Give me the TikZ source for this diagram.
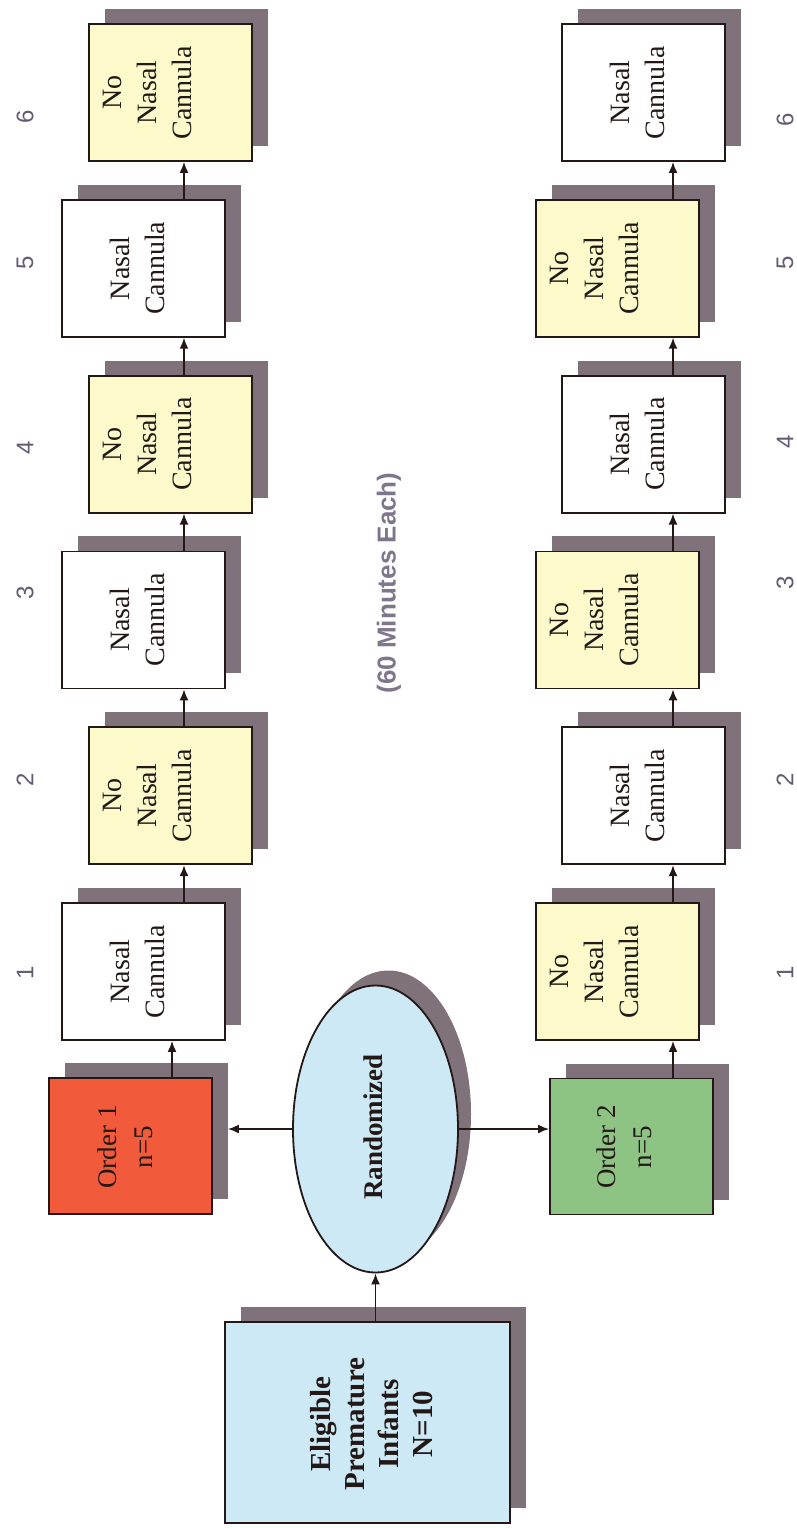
\documentclass[tikz,border=0pt]{standalone}
\usepackage{fontspec}
\setmainfont{Liberation Serif}
\setsansfont{Liberation Sans}
\usetikzlibrary{shapes.geometric,shadows,arrows.meta,calc}

\definecolor{edge}{RGB}{35,24,21}
\definecolor{shade}{RGB}{128,114,122}
\definecolor{paleyellow}{RGB}{252,249,203}
\definecolor{paleblue}{RGB}{205,233,245}
\definecolor{orderred}{RGB}{241,90,58}
\definecolor{ordergreen}{RGB}{141,196,132}
\definecolor{numc}{RGB}{98,90,114}
\definecolor{notec}{RGB}{128,118,140}

\tikzset{
  shadowed/.style={drop shadow={shadow xshift=16pt, shadow yshift=15pt, fill=shade, opacity=1}},
  box/.style={draw=edge, line width=1.8pt, minimum width=163pt, minimum height=137pt,
              inner sep=0pt, shadowed},
  nc/.style={box, fill=white},
  nnc/.style={box, fill=paleyellow},
  txt/.style={rotate=90, align=center, inner sep=0pt, text=edge,
              font=\fontsize{28}{35}\selectfont},
  boldtxt/.style={txt, font=\bfseries\fontsize{29}{34}\selectfont},
  arr/.style={-{Latex[length=11pt,width=9pt]}, line width=1.8pt, draw=edge},
  num/.style={rotate=90, inner sep=0pt, text=numc, font=\sffamily\fontsize{24}{24}\selectfont},
}

\begin{document}
\begin{tikzpicture}[x=1pt,y=-1pt]
\useasboundingbox (0,0) rectangle (796,1529);

% guide columns for the vertical connectors
\coordinate (colA) at (184,0);
\coordinate (colB) at (673,0);
\coordinate (colO) at (172,0);

% source box and randomisation
\node[box, minimum width=285pt, minimum height=201pt, fill=paleblue] (elig) at (367.5,1422.5) {};
\node[boldtxt] (eligt) at (372,1424) {Eligible\\Premature\\Infants\\N=10};

\node[ellipse, draw=edge, line width=1.8pt, fill=paleblue, minimum width=165pt,
      minimum height=287pt, inner sep=0pt,
      drop shadow={shadow xshift=13pt, shadow yshift=15pt, fill=shade, opacity=1}]
      (rnd) at (375.5,1129) {};
\node[boldtxt, font=\bfseries\fontsize{27}{32}\selectfont] (rndt) at (373,1127) {Randomized};

% the two sequence groups
\node[box, minimum height=136pt, fill=orderred] (o1) at (130.5,1146) {};
\node[txt, font=\fontsize{27}{36}\selectfont] (o1t) at (125,1147) {Order 1\\n=5};
\node[box, minimum height=136pt, fill=ordergreen] (o2) at (631.5,1146.5) {};
\node[txt, font=\fontsize{27}{36}\selectfont] (o2t) at (624,1147) {Order 2\\n=5};

% Order 1 sequence (left column)
\node[nc]  (a1) at (143.5,971.5) {};
\node[nnc] (a2) at (170.5,795.7) {};
\node[nc]  (a3) at (143.5,619.9) {};
\node[nnc] (a4) at (170.5,444.1) {};
\node[nc]  (a5) at (143.5,268.3) {};
\node[nnc] (a6) at (170.5,92.5) {};
\node[txt] (a1t) at ([xshift=-6pt]a1.center) {Nasal\\Cannula};
\node[txt] (a2t) at ([xshift=-23pt]a2.center) {No\\Nasal\\Cannula};
\node[txt] (a3t) at ([xshift=-6pt]a3.center) {Nasal\\Cannula};
\node[txt] (a4t) at ([xshift=-23pt]a4.center) {No\\Nasal\\Cannula};
\node[txt] (a5t) at ([xshift=-6pt]a5.center) {Nasal\\Cannula};
\node[txt] (a6t) at ([xshift=-23pt]a6.center) {No\\Nasal\\Cannula};

% Order 2 sequence (right column)
\node[nnc] (b1) at (617.5,971.5) {};
\node[nc]  (b2) at (643.5,795.7) {};
\node[nnc] (b3) at (617.5,619.9) {};
\node[nc]  (b4) at (643.5,444.1) {};
\node[nnc] (b5) at (617.5,268.3) {};
\node[nc]  (b6) at (643.5,92.5) {};
\node[txt] (b1t) at ([xshift=-23pt]b1.center) {No\\Nasal\\Cannula};
\node[txt] (b2t) at ([xshift=-6pt]b2.center) {Nasal\\Cannula};
\node[txt] (b3t) at ([xshift=-23pt]b3.center) {No\\Nasal\\Cannula};
\node[txt] (b4t) at ([xshift=-6pt]b4.center) {Nasal\\Cannula};
\node[txt] (b5t) at ([xshift=-23pt]b5.center) {No\\Nasal\\Cannula};
\node[txt] (b6t) at ([xshift=-6pt]b6.center) {Nasal\\Cannula};

% period numbers
\node[num] (na1) at (25,973) {1};
\node[num] (na2) at (25,780) {2};
\node[num] (na3) at (25,593) {3};
\node[num] (na4) at (25,448) {4};
\node[num] (na5) at (25,263) {5};
\node[num] (na6) at (25,117) {6};
\node[num] (nb1) at (785,973) {1};
\node[num] (nb2) at (785,780) {2};
\node[num] (nb3) at (785,583) {3};
\node[num] (nb4) at (785,442) {4};
\node[num] (nb5) at (785,263) {5};
\node[num] (nb6) at (785,120) {6};

\node[rotate=90, inner sep=0pt, text=notec, font=\sffamily\bfseries\fontsize{26}{26}\selectfont]
  (note) at (389,583) {(60 Minutes Each)};

% connectors
\draw[arr] (rnd.south |- elig.north) -- (rnd.south);
\draw[arr] (rnd.west) -- ([xshift=15pt]rnd.west -| o1.east);
\draw[arr] (rnd.east) -- (rnd.east -| o2.west);
\draw[arr] (o1.north -| colO) -- (a1.south -| colO);
\draw[arr] (o2.north -| colB) -- (b1.south -| colB);
\foreach \i/\j in {1/2,2/3,3/4,4/5,5/6}{
  \draw[arr] (a\i.north -| colA) -- (a\j.south -| colA);
  \draw[arr] (b\i.north -| colB) -- (b\j.south -| colB);
}
\end{tikzpicture}
\end{document}
